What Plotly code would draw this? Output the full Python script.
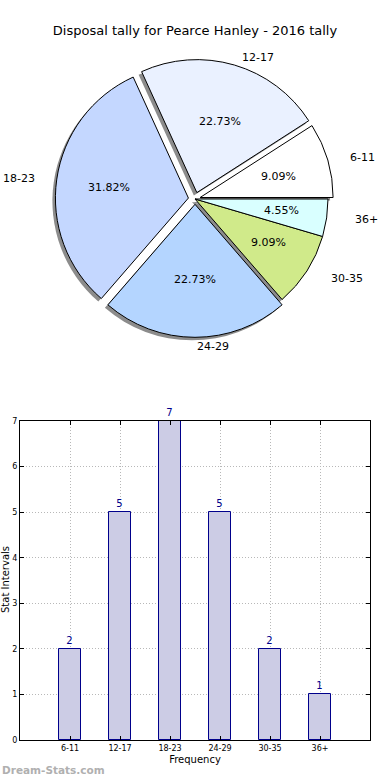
import math
import plotly.graph_objects as go

categories = ["6-11", "12-17", "18-23", "24-29", "30-35", "36+"]
counts = [2, 5, 7, 5, 2, 1]
pie_colors = ["#FFFFFF", "#EAF1FF", "#C4D7FF", "#B4D5FF", "#D0EA8A", "#D9FFFF"]
pulls = [0.04, 0.05, 0.05, 0.04, 0.0, 0.0]
y_ticks = [0, 1, 2, 3, 4, 5, 6, 7]

W, H = 390, 780
FONT = "DejaVu Sans"


def px(x):
    return x / W


def py(y):
    return 1 - y / H


# pie geometry (pixels)
cx, cy, r = 195, 199, 133
rx_txt, ry_txt = 145, 134        # text placement radii (reference pie is slightly oval)
pct_dist, lab_dist = 0.6, 1.1
# first slice should start at 3 o'clock, going counterclockwise
rot = 90 - 360 * counts[0] / sum(counts)


def pie_domain(radius, dx=0, dy=0):
    box = radius * (1 + max(pulls))
    return dict(x=[px(cx + dx - box), px(cx + dx + box)],
                y=[py(cy + dy + box), py(cy + dy - box)])


fig = go.Figure()

# shadow
fig.add_trace(go.Pie(
    labels=categories, values=counts, sort=False, direction="counterclockwise",
    rotation=rot, pull=pulls, domain=pie_domain(r, -3, 3),
    marker=dict(colors=["#8c8c8c"] * len(counts), line=dict(width=0)),
    textinfo="none", hoverinfo="skip", showlegend=False))

# main pie
fig.add_trace(go.Pie(
    labels=categories, values=counts, sort=False, direction="counterclockwise",
    rotation=rot, pull=pulls, domain=pie_domain(r),
    marker=dict(colors=pie_colors, line=dict(color="#000000", width=1)),
    textinfo="none", showlegend=False))

# pie texts (percentages inside, labels outside), placed from the data angles
annotations = []
total = sum(counts)
cum = 0
for cat, v in zip(categories, counts):
    mid = 2 * math.pi * (cum + v / 2) / total
    cum += v
    c, s = math.cos(mid), math.sin(mid)
    annotations.append(dict(
        text=f"{100 * v / total:.2f}%", x=px(cx + pct_dist * rx_txt * c),
        y=py(cy - pct_dist * ry_txt * s), xref="paper", yref="paper",
        showarrow=False, xanchor="center", yanchor="middle",
        font=dict(family=FONT, size=11, color="#000000")))
    annotations.append(dict(
        text=cat, x=px(cx + lab_dist * rx_txt * c),
        y=py(cy - lab_dist * ry_txt * s), xref="paper", yref="paper",
        showarrow=False, xanchor="left" if round(c, 6) >= 0 else "right",
        yanchor="middle", font=dict(family=FONT, size=11, color="#000000")))

# bar chart
fig.add_trace(go.Bar(
    x=list(range(len(categories))), y=counts, width=0.45,
    marker=dict(color="#CCCCE5", line=dict(color="#00008B", width=1)),
    text=[str(v) for v in counts], textposition="outside", cliponaxis=False,
    textfont=dict(family=FONT, size=10, color="#00008B"),
    showlegend=False, xaxis="x", yaxis="y"))

annotations += [
    dict(text="Stat Intervals", textangle=-90, x=px(5), y=py(580),
         xref="paper", yref="paper", showarrow=False,
         xanchor="center", yanchor="middle", font=dict(size=10)),
    dict(text="<b>Dream-Stats.com</b>", x=0, y=py(770),
         xref="paper", yref="paper", showarrow=False,
         xanchor="left", yanchor="middle",
         font=dict(size=10.5, color="#b0b0b0")),
]

ax_l, ax_r, ax_t, ax_b = 20, 370, 421, 740
fig.update_layout(
    width=W, height=H, margin=dict(l=0, r=0, t=0, b=0, autoexpand=False),
    paper_bgcolor="white", plot_bgcolor="white",
    font=dict(family=FONT, color="#000000"),
    title=dict(text="Disposal tally for Pearce Hanley - 2016 tally",
               x=px(195), xanchor="center", y=py(30), yanchor="middle",
               xref="paper", yref="paper",
               font=dict(family=FONT, size=13, color="#000000")),
    xaxis=dict(domain=[px(ax_l), px(ax_r)], range=[-1, 6], automargin=False,
               tickmode="array", tickvals=list(range(len(categories))),
               ticktext=categories, tickfont=dict(size=8),
               showline=True, linecolor="black", linewidth=1, mirror="ticks",
               ticks="inside", ticklen=4, tickcolor="black",
               showgrid=True, gridcolor="#b8b8b8", griddash="1px,2px", gridwidth=1,
               zeroline=False, anchor="y",
               title=dict(text="Frequency", font=dict(size=10), standoff=4)),
    yaxis=dict(domain=[py(ax_b), py(ax_t)], range=[0, 7], automargin=False,
               tickmode="array", tickvals=y_ticks, tickfont=dict(size=8),
               showline=True, linecolor="black", linewidth=1, mirror="ticks",
               ticks="inside", ticklen=4, tickcolor="black",
               showgrid=True, gridcolor="#b8b8b8", griddash="1px,2px", gridwidth=1,
               zeroline=False, anchor="x"),
    bargap=0,
    annotations=annotations,
)

fig.write_html(
    "out.html",
    config={"displayModeBar": False},
    post_script="document.body.style.margin='0';document.body.style.overflow='hidden';",
)
